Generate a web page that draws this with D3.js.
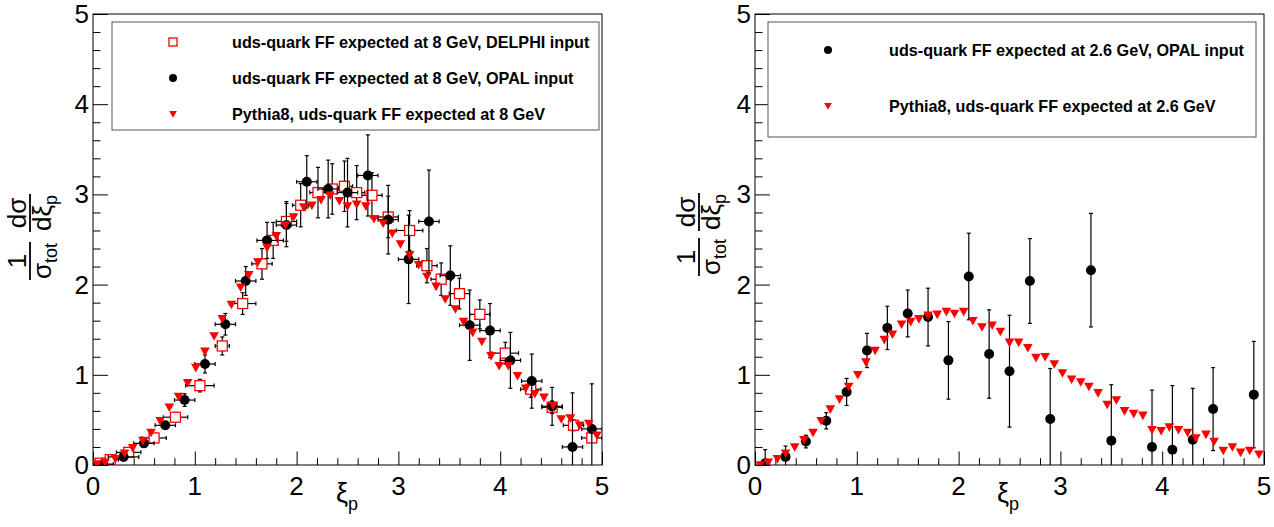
<!DOCTYPE html>
<html>
<head>
<meta charset="utf-8">
<script src="https://cdn.jsdelivr.net/npm/d3@7"></script>
<style>
  body { margin: 0; background: #fff; }
  svg { display: block; font-family: "Liberation Sans", Arial, Helvetica, sans-serif; }
</style>
</head>
<body>
<div id="chart"></div>
<script>
// ---- left panel: 8 GeV ----
const delphiX = [0.07, 0.17, 0.35, 0.60, 0.81, 1.05, 1.27, 1.47, 1.66, 1.77, 1.90, 2.04, 2.21, 2.35, 2.47, 2.59, 2.74, 2.90, 3.11, 3.28, 3.42, 3.60, 3.80, 4.05, 4.30, 4.51, 4.72, 4.90];
const delphiY = [0.02, 0.06, 0.14, 0.30, 0.53, 0.88, 1.32, 1.79, 2.23, 2.49, 2.70, 2.88, 3.02, 3.06, 3.09, 3.02, 2.99, 2.75, 2.60, 2.21, 2.06, 1.90, 1.67, 1.24, 0.84, 0.64, 0.44, 0.30];
const delphiEX = [0.05, 0.08, 0.12, 0.12, 0.12, 0.14, 0.07, 0.13, 0.10, 0.10, 0.10, 0.08, 0.08, 0.08, 0.08, 0.08, 0.10, 0.10, 0.13, 0.10, 0.10, 0.10, 0.10, 0.13, 0.10, 0.10, 0.10, 0.10];
const delphiEY = [0.01, 0.02, 0.03, 0.04, 0.05, 0.07, 0.10, 0.12, 0.17, 0.20, 0.22, 0.24, 0.28, 0.28, 0.28, 0.30, 0.25, 0.23, 0.22, 0.19, 0.18, 0.17, 0.16, 0.12, 0.09, 0.07, 0.06, 0.05];

const opal8X = [0.10, 0.30, 0.50, 0.71, 0.90, 1.10, 1.30, 1.50, 1.71, 1.90, 2.10, 2.31, 2.50, 2.70, 2.90, 3.10, 3.30, 3.51, 3.70, 3.90, 4.10, 4.31, 4.51, 4.71, 4.90];
const opal8Y = [0.01, 0.09, 0.24, 0.44, 0.72, 1.12, 1.56, 2.04, 2.49, 2.66, 3.14, 3.06, 3.02, 3.21, 2.72, 2.28, 2.70, 2.10, 1.55, 1.49, 1.16, 0.93, 0.65, 0.20, 0.40];
const opal8EX = [0.10, 0.15, 0.10, 0.10, 0.10, 0.10, 0.10, 0.10, 0.10, 0.10, 0.10, 0.10, 0.10, 0.10, 0.10, 0.10, 0.10, 0.10, 0.10, 0.10, 0.10, 0.10, 0.10, 0.10, 0.10];
const opal8EY = [0.01, 0.02, 0.03, 0.04, 0.07, 0.10, 0.12, 0.16, 0.20, 0.24, 0.29, 0.32, 0.38, 0.45, 0.38, 0.49, 0.57, 0.33, 0.39, 0.30, 0.31, 0.30, 0.21, 0.60, 0.50];

const pythia8X = [0.04, 0.12, 0.22, 0.31, 0.39, 0.49, 0.57, 0.66, 0.75, 0.84, 0.93, 1.01, 1.10, 1.19, 1.27, 1.36, 1.45, 1.53, 1.62, 1.71, 1.80, 1.89, 1.97, 2.07, 2.15, 2.24, 2.33, 2.42, 2.50, 2.59, 2.68, 2.76, 2.85, 2.94, 3.02, 3.11, 3.20, 3.28, 3.37, 3.46, 3.56, 3.64, 3.73, 3.82, 3.91, 3.99, 4.08, 4.17, 4.25, 4.34, 4.43, 4.52, 4.60, 4.69, 4.78, 4.87, 4.95];
const pythia8Y = [0.01, 0.03, 0.07, 0.13, 0.19, 0.27, 0.36, 0.49, 0.64, 0.76, 0.91, 1.08, 1.26, 1.43, 1.62, 1.78, 1.97, 2.11, 2.25, 2.41, 2.54, 2.66, 2.75, 2.86, 2.88, 2.94, 2.99, 2.93, 2.87, 2.89, 2.87, 2.73, 2.68, 2.57, 2.45, 2.33, 2.22, 2.09, 1.98, 1.84, 1.73, 1.59, 1.47, 1.37, 1.21, 1.10, 1.10, 0.99, 0.85, 0.79, 0.75, 0.66, 0.51, 0.52, 0.44, 0.46, 0.33];

// ---- right panel: 2.6 GeV ----
const opal26X = [0.10, 0.30, 0.50, 0.70, 0.90, 1.10, 1.30, 1.50, 1.70, 1.90, 2.10, 2.30, 2.50, 2.70, 2.90, 3.30, 3.50, 3.90, 4.10, 4.30, 4.50, 4.90];
const opal26Y = [0.02, 0.09, 0.26, 0.49, 0.81, 1.27, 1.52, 1.68, 1.64, 1.16, 2.09, 1.23, 1.04, 2.04, 0.51, 2.16, 0.27, 0.20, 0.17, 0.28, 0.62, 0.78];
const opal26EY = [0.15, 0.12, 0.07, 0.09, 0.15, 0.19, 0.24, 0.26, 0.32, 0.43, 0.48, 0.49, 0.62, 0.47, 0.56, 0.63, 0.62, 0.63, 0.71, 0.57, 0.46, 0.59];

const pythia26X = [0.05, 0.13, 0.22, 0.30, 0.39, 0.48, 0.57, 0.65, 0.74, 0.83, 0.92, 1.01, 1.09, 1.18, 1.27, 1.35, 1.44, 1.53, 1.61, 1.70, 1.79, 1.88, 1.96, 2.05, 2.14, 2.23, 2.33, 2.41, 2.50, 2.59, 2.68, 2.76, 2.85, 2.94, 3.02, 3.11, 3.20, 3.28, 3.37, 3.46, 3.55, 3.63, 3.72, 3.81, 3.90, 3.99, 4.07, 4.16, 4.25, 4.33, 4.43, 4.51, 4.60, 4.69, 4.77, 4.86, 4.95];
const pythia26Y = [0.00, 0.03, 0.07, 0.13, 0.20, 0.28, 0.36, 0.49, 0.62, 0.73, 0.87, 1.00, 1.14, 1.27, 1.39, 1.45, 1.56, 1.59, 1.62, 1.66, 1.67, 1.70, 1.68, 1.70, 1.60, 1.53, 1.55, 1.48, 1.36, 1.36, 1.30, 1.19, 1.20, 1.12, 1.02, 0.95, 0.92, 0.87, 0.80, 0.67, 0.72, 0.60, 0.57, 0.55, 0.39, 0.38, 0.42, 0.39, 0.36, 0.30, 0.34, 0.26, 0.16, 0.20, 0.14, 0.16, 0.12];

const xTicks = [0, 1, 2, 3, 4, 5];
const yTicks = [0, 1, 2, 3, 4, 5];

const legend8 = ["uds-quark FF expected at 8 GeV, DELPHI input", "uds-quark FF expected at 8 GeV, OPAL input", "Pythia8, uds-quark FF expected at 8 GeV"];
const legend26 = ["uds-quark FF expected at 2.6 GeV, OPAL input", "Pythia8, uds-quark FF expected at 2.6 GeV"];

const W = 1274, H = 527;
const RED = "#ff0000";

const svg = d3.select("#chart").append("svg")
  .attr("width", W)
  .attr("height", H)
  .attr("viewBox", `0 0 ${W} ${H}`);

const zip = (xs, ys, ex, ey) => xs.map((x, i) => ({ x, y: ys[i], ex: ex ? ex[i] : 0, ey: ey ? ey[i] : 0 }));

const triPath = "M-4.8,-3.8L4.8,-3.8L0,4.8Z";

function drawPanel(cfg) {
  const x = d3.scaleLinear().domain([0, 5]).range([cfg.left, cfg.right]);
  const y = d3.scaleLinear().domain([0, 5]).range([465, 14]);
  const g = svg.append("g");

  const clipId = "clip" + cfg.id;
  svg.append("clipPath").attr("id", clipId)
    .append("rect").attr("x", cfg.left).attr("y", 14)
    .attr("width", cfg.right - cfg.left).attr("height", 451);

  // frame
  g.append("rect")
    .attr("x", cfg.left).attr("y", 14)
    .attr("width", cfg.right - cfg.left).attr("height", 451)
    .attr("fill", "none").attr("stroke", "#000").attr("stroke-width", 1);

  // x axis ticks (ROOT style, inward)
  const xAxis = d3.axisTop(x).tickValues(d3.range(0, 5.001, 0.2)).tickSize(0).tickFormat("");
  const ax = g.append("g").attr("transform", "translate(0,465)").call(xAxis);
  ax.select(".domain").remove();
  ax.selectAll(".tick line")
    .attr("y2", d => Math.abs(d - Math.round(d)) < 1e-6 ? -13.5 : -6.8)
    .attr("stroke", "#000");
  g.selectAll(".xlab").data(xTicks).join("text")
    .attr("x", d => x(d)).attr("y", 495)
    .attr("text-anchor", "middle")
    .attr("font-size", 26)
    .text(d => d);

  const yAxis = d3.axisRight(y).tickValues(d3.range(0, 5.001, 0.2)).tickSize(0).tickFormat("");
  const ay = g.append("g").attr("transform", `translate(${cfg.left},0)`).call(yAxis);
  ay.select(".domain").remove();
  ay.selectAll(".tick line")
    .attr("x2", d => Math.abs(d - Math.round(d)) < 1e-6 ? 15 : 7.5)
    .attr("stroke", "#000");
  g.selectAll(".ylab").data(yTicks).join("text")
    .attr("x", cfg.left - 4).attr("y", d => y(d) + 9)
    .attr("text-anchor", "end")
    .attr("font-size", 26)
    .text(d => d);

  const plot = g.append("g").attr("clip-path", `url(#${clipId})`);

  // error bars + markers
  cfg.series.forEach(s => {
    const sg = plot.append("g");
    if (s.errors) {
      const eg = sg.append("g").attr("stroke", "#000").attr("stroke-width", 1.2);
      s.data.forEach(d => {
        const px = x(d.x), py = y(d.y);
        if (d.ey > 0) {
          eg.append("line").attr("x1", px).attr("x2", px).attr("y1", y(d.y + d.ey)).attr("y2", y(d.y - d.ey));
          eg.append("line").attr("x1", px - 2).attr("x2", px + 2).attr("y1", y(d.y + d.ey)).attr("y2", y(d.y + d.ey));
          eg.append("line").attr("x1", px - 2).attr("x2", px + 2).attr("y1", y(d.y - d.ey)).attr("y2", y(d.y - d.ey));
        }
        if (d.ex > 0) {
          eg.append("line").attr("x1", x(d.x - d.ex)).attr("x2", x(d.x + d.ex)).attr("y1", py).attr("y2", py);
          eg.append("line").attr("x1", x(d.x - d.ex)).attr("x2", x(d.x - d.ex)).attr("y1", py - 2).attr("y2", py + 2);
          eg.append("line").attr("x1", x(d.x + d.ex)).attr("x2", x(d.x + d.ex)).attr("y1", py - 2).attr("y2", py + 2);
        }
      });
    }
    drawMarkers(sg, s.marker, s.data.map(d => [x(d.x), y(d.y)]), 1);
  });

  // legend
  const L = cfg.legend;
  g.append("rect")
    .attr("x", L.x0).attr("y", L.y0)
    .attr("width", L.x1 - L.x0).attr("height", L.y1 - L.y0)
    .attr("fill", "#fff").attr("stroke", "#555").attr("stroke-width", 1);
  L.items.forEach((it, i) => {
    drawMarkers(g, it.marker, [[L.mx, L.rows[i]]], 0.8);
    g.append("text")
      .attr("x", L.tx).attr("y", L.rows[i] + 6)
      .attr("font-size", 16.2).attr("font-weight", "bold")
      .text(it.label);
  });

  // x title
  const xt = g.append("text")
    .attr("x", cfg.xTitleX).attr("y", 502)
    .attr("font-size", 27);
  xt.append("tspan").text("ξ");
  xt.append("tspan").attr("font-size", 18).attr("dy", 8).text("p");

  // y title: 1/σ_tot · dσ/dξ_p
  const yt = g.append("g").attr("transform", `translate(${cfg.yTitle.lx},${cfg.yTitle.cy}) rotate(-90)`);
  cfg.yTitle.fracs.forEach(f => {
    const num = yt.append("text").attr("x", f.c).attr("y", -4)
      .attr("text-anchor", "middle").attr("font-size", 26).text(f.num);
    const den = yt.append("text").attr("x", f.c).attr("y", 21)
      .attr("text-anchor", "middle").attr("font-size", 26);
    f.den.forEach(p => {
      if (p.sub) den.append("tspan").attr("font-size", 18).attr("dy", 6).text(p.t);
      else den.append("tspan").text(p.t);
    });
    const w = Math.max(num.node().getComputedTextLength(), den.node().getComputedTextLength());
    yt.append("line").attr("x1", f.c - w / 2 - 1).attr("x2", f.c + w / 2 + 1)
      .attr("y1", 0).attr("y2", 0).attr("stroke", "#000").attr("stroke-width", 1.8);
  });
}

function drawMarkers(sel, type, pts, k) {
  pts.forEach(([px, py]) => {
    if (type === "circle") {
      sel.append("circle").attr("cx", px).attr("cy", py).attr("r", 5 * k).attr("fill", "#000");
    } else if (type === "square") {
      const s = 10 * k;
      sel.append("rect").attr("x", px - s / 2).attr("y", py - s / 2).attr("width", s).attr("height", s)
        .attr("fill", "#fff").attr("stroke", RED).attr("stroke-width", 1.3);
    } else {
      sel.append("path").attr("d", triPath)
        .attr("transform", `translate(${px},${py}) scale(${k})`)
        .attr("fill", RED);
    }
  });
}

drawPanel({
  id: "L", left: 93, right: 602,
  series: [
    { marker: "square", errors: true, data: zip(delphiX, delphiY, delphiEX, delphiEY) },
    { marker: "circle", errors: true, data: zip(opal8X, opal8Y, opal8EX, opal8EY) },
    { marker: "triangle", errors: false, data: zip(pythia8X, pythia8Y) }
  ],
  legend: {
    x0: 112, x1: 599, y0: 22, y1: 130, mx: 173, tx: 232, rows: [42, 78, 114],
    items: [
      { marker: "square", label: legend8[0] },
      { marker: "circle", label: legend8[1] },
      { marker: "triangle", label: legend8[2] }
    ]
  },
  xTitleX: 336,
  yTitle: {
    lx: 30, cy: 237,
    fracs: [
      { c: -24, num: "1", den: [{ t: "σ" }, { t: "tot", sub: true }] },
      { c: 24, num: "dσ", den: [{ t: "dξ" }, { t: "p", sub: true }] }
    ]
  }
});

drawPanel({
  id: "R", left: 755, right: 1264,
  series: [
    { marker: "circle", errors: true, data: zip(opal26X, opal26Y, null, opal26EY) },
    { marker: "triangle", errors: false, data: zip(pythia26X, pythia26Y) }
  ],
  legend: {
    x0: 768, x1: 1256, y0: 22, y1: 137, mx: 828, tx: 889, rows: [50, 106],
    items: [
      { marker: "circle", label: legend26[0] },
      { marker: "triangle", label: legend26[1] }
    ]
  },
  xTitleX: 997,
  yTitle: {
    lx: 699, cy: 234,
    fracs: [
      { c: -23, num: "1", den: [{ t: "σ" }, { t: "tot", sub: true }] },
      { c: 22, num: "dσ", den: [{ t: "dξ" }, { t: "p", sub: true }] }
    ]
  }
});
</script>
</body>
</html>
